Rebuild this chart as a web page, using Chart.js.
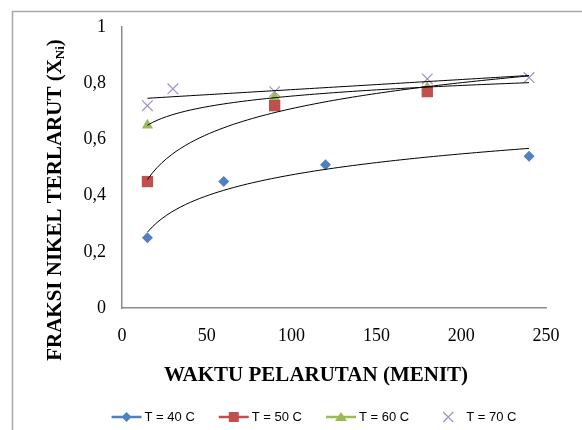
<!DOCTYPE html>
<html>
<head>
<meta charset="utf-8">
<script src="https://cdn.jsdelivr.net/npm/chart.js@4.4.1/dist/chart.umd.min.js"></script>
<style>
  html, body { margin: 0; padding: 0; background: #fff; }
</style>
</head>
<body>
<canvas id="nikelChart" width="582" height="430"></canvas>
<script>
// values
var minutes40 = [15, 60, 120, 240];
var fraction40 = [0.25, 0.45, 0.51, 0.54];
var minutes50 = [15, 90, 180];
var fraction50 = [0.45, 0.72, 0.77];
var minutes60 = [15, 90, 180];
var fraction60 = [0.65, 0.75, 0.785];
var minutes70 = [15, 30, 90, 180, 240];
var fraction70 = [0.72, 0.78, 0.77, 0.815, 0.82];

var seriesNames = ['T = 40 C', 'T = 50 C', 'T = 60 C', 'T = 70 C'];
var trendTypes = ['log', 'log', 'log', 'linear'];
var xTickLabels = ['0', '50', '100', '150', '200', '250'];
var yTickLabels = ['0', '0,2', '0,4', '0,6', '0,8', '1'];
var trendEnd = 240;

var xTitle = 'WAKTU PELARUTAN (MENIT)';
var yTitle = 'FRAKSI NIKEL TERLARUT (X';
var yTitleSub = 'Ni';

var seriesX = [minutes40, minutes50, minutes60, minutes70];
var seriesY = [fraction40, fraction50, fraction60, fraction70];
var colors = ['#4f81bd', '#c0504d', '#9bbb59', '#a391c6'];
var pointStyles = ['rectRot', 'rect', 'triangle', 'crossRot'];
var pointSizes = [5.5, 8, 6.5, 7.5];

function toPoints(xs, ys) {
    return xs.map(function(x, i) { return { x: x, y: ys[i] }; });
}

// excel style trendline by least squares: y = a ln(x) + b, or y = a x + b
function trendLine(xs, ys, kind) {
    var f = kind === 'log' ? Math.log : function(v) { return v; };
    var n = xs.length;
    var lx = xs.map(function(x) { return f(x); });
    var mx = 0, my = 0;
    for (var i = 0; i < n; i++) { mx += lx[i] / n; my += ys[i] / n; }
    var sxy = 0, sxx = 0;
    for (var j = 0; j < n; j++) {
        sxy += (lx[j] - mx) * (ys[j] - my);
        sxx += (lx[j] - mx) * (lx[j] - mx);
    }
    var a = sxy / sxx, b = my - a * mx;
    var x0 = Math.min.apply(null, xs);
    var pts = [];
    for (var k = 0; k <= 80; k++) {
        var x = x0 + (trendEnd - x0) * k / 80;
        pts.push({ x: x, y: a * f(x) + b });
    }
    return pts;
}

var datasets = [];
for (var s = 0; s < seriesX.length; s++) {
    datasets.push({
        label: seriesNames[s],
        data: toPoints(seriesX[s], seriesY[s]),
        showLine: false,
        pointStyle: pointStyles[s],
        pointRadius: pointSizes[s],
        pointHoverRadius: pointSizes[s],
        backgroundColor: colors[s],
        borderColor: colors[s],
        borderWidth: s === 3 ? 1.2 : 0,
        order: 2
    });
}
for (var t = 0; t < seriesX.length; t++) {
    datasets.push({
        label: 'trend ' + seriesNames[t],
        data: trendLine(seriesX[t], seriesY[t], trendTypes[t]),
        showLine: true,
        pointRadius: 0,
        borderColor: '#000',
        borderWidth: 1,
        tension: 0,
        order: 1
    });
}

function drawLegendSymbol(ctx, i, x, y) {
    ctx.save();
    ctx.fillStyle = colors[i];
    ctx.strokeStyle = colors[i];
    if (i < 3) {
        ctx.lineWidth = 2.5;
        ctx.beginPath();
        ctx.moveTo(x, y);
        ctx.lineTo(x + 30, y);
        ctx.stroke();
    }
    var cx = x + 15;
    ctx.beginPath();
    if (i === 0) {
        ctx.moveTo(cx, y - 5); ctx.lineTo(cx + 5, y); ctx.lineTo(cx, y + 5); ctx.lineTo(cx - 5, y);
        ctx.closePath(); ctx.fill();
    } else if (i === 1) {
        ctx.fillRect(cx - 5, y - 5, 10, 10);
    } else if (i === 2) {
        ctx.moveTo(cx, y - 5); ctx.lineTo(cx + 6, y + 4); ctx.lineTo(cx - 6, y + 4);
        ctx.closePath(); ctx.fill();
    } else {
        ctx.lineWidth = 1.2;
        ctx.moveTo(cx - 5, y - 5); ctx.lineTo(cx + 5, y + 5);
        ctx.moveTo(cx + 5, y - 5); ctx.lineTo(cx - 5, y + 5);
        ctx.stroke();
    }
    ctx.restore();
}

var decorPlugin = {
    id: 'decor',
    beforeDraw: function(chart) {
        var ctx = chart.ctx;
        ctx.save();
        ctx.fillStyle = '#fff';
        ctx.fillRect(0, 0, chart.width, chart.height);
        ctx.strokeStyle = '#a6a6a6';
        ctx.lineWidth = 1.5;
        ctx.beginPath();
        ctx.moveTo(12.5, chart.height);
        ctx.lineTo(12.5, 11.5);
        ctx.lineTo(chart.width, 11.5);
        ctx.stroke();
        ctx.restore();
    },
    afterDraw: function(chart) {
        var ctx = chart.ctx;
        ctx.save();
        ctx.fillStyle = '#000';
        ctx.textBaseline = 'middle';

        // x axis title
        ctx.font = 'bold 21px "Liberation Serif"';
        ctx.textAlign = 'center';
        ctx.fillText(xTitle, 316, 376);

        // y axis title with subscript
        ctx.translate(56, 200);
        ctx.rotate(-Math.PI / 2);
        ctx.textAlign = 'left';
        ctx.font = 'bold 21px "Liberation Serif"';
        var w1 = ctx.measureText(yTitle).width;
        var w3 = ctx.measureText(')').width;
        ctx.font = 'bold 13px "Liberation Serif"';
        var w2 = ctx.measureText(yTitleSub).width;
        var x = -(w1 + w2 + w3) / 2;
        ctx.font = 'bold 21px "Liberation Serif"';
        ctx.fillText(yTitle, x, 0);
        ctx.font = 'bold 13px "Liberation Serif"';
        ctx.fillText(yTitleSub, x + w1, 5);
        ctx.font = 'bold 21px "Liberation Serif"';
        ctx.fillText(')', x + w1 + w2, 0);
        ctx.setTransform(1, 0, 0, 1, 0, 0);

        // legend
        ctx.font = '13px "Liberation Sans"';
        ctx.textAlign = 'left';
        var widths = seriesNames.map(function(n) { return 33 + ctx.measureText(n).width; });
        var gap = 24;
        var total = widths.reduce(function(a, b) { return a + b; }, 0) + gap * (widths.length - 1);
        var lx = 314 - total / 2, ly = 417;
        for (var i = 0; i < seriesNames.length; i++) {
            drawLegendSymbol(ctx, i, lx, ly);
            ctx.fillStyle = '#000';
            ctx.fillText(seriesNames[i], lx + 33, ly);
            lx += widths[i] + gap;
        }
        ctx.restore();
    }
};

var ctx = document.getElementById('nikelChart').getContext('2d');
var nikelChart = new Chart(ctx, {
    type: 'scatter',
    data: { datasets: datasets },
    options: {
        responsive: false,
        animation: false,
        devicePixelRatio: 1,
        layout: { padding: { top: 27, right: 36, bottom: 0, left: 0 } },
        plugins: { legend: { display: false }, tooltip: { enabled: false } },
        scales: {
            x: {
                type: 'linear',
                min: 0,
                max: 250,
                ticks: {
                    stepSize: 50,
                    padding: 17,
                    color: '#000',
                    font: { family: 'Liberation Serif', size: 18 },
                    callback: function(v, i) { return xTickLabels[i]; }
                },
                grid: { display: false, drawTicks: false },
                border: { display: true, color: '#8c8c8c', width: 1.5 },
                afterFit: function(scale) { scale.height = 122; }
            },
            y: {
                min: 0,
                max: 1,
                ticks: {
                    stepSize: 0.2,
                    padding: 16,
                    color: '#000',
                    font: { family: 'Liberation Serif', size: 18 },
                    callback: function(v, i) { return yTickLabels[i]; }
                },
                grid: { display: false, drawTicks: false },
                border: { display: true, color: '#8c8c8c', width: 1.5 },
                afterFit: function(scale) { scale.width = 122; }
            }
        }
    },
    plugins: [decorPlugin]
});
</script>
</body>
</html>
